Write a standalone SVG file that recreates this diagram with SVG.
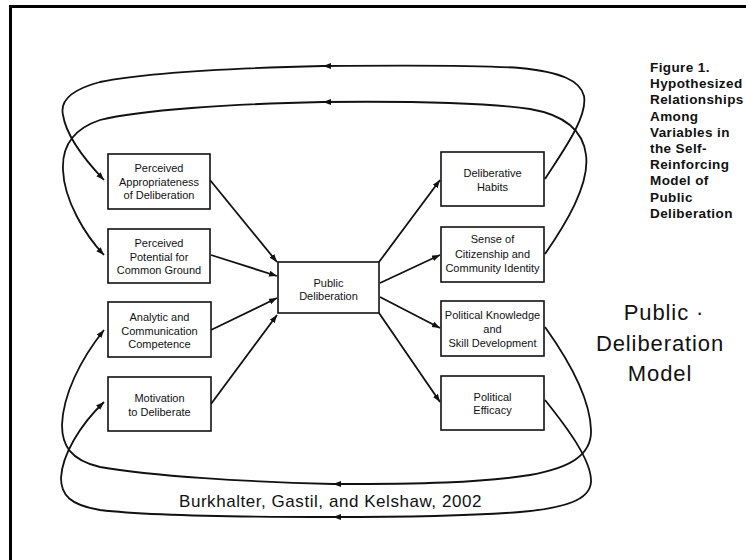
<svg xmlns="http://www.w3.org/2000/svg" width="746" height="560" viewBox="0 0 746 560">
<style>
.box{fill:#fff;stroke:#111;stroke-width:1.6}
.bt{font-family:"Liberation Sans",Arial,sans-serif;font-size:11px;fill:#111;text-anchor:middle}
.ln{fill:none;stroke:#111;stroke-width:1.8}
.cap{font-family:"Liberation Sans",Arial,sans-serif;font-size:13.5px;font-weight:bold;letter-spacing:0.4px;fill:#111}
.big{font-family:"Liberation Sans",Arial,sans-serif;font-size:22px;letter-spacing:0.9px;fill:#111;text-anchor:middle}
.cit{font-family:"Liberation Sans",Arial,sans-serif;font-size:17px;letter-spacing:0.55px;fill:#111}
</style>
<defs>
<marker id="ah" markerUnits="userSpaceOnUse" markerWidth="9" markerHeight="7" refX="8" refY="3" orient="auto">
<path d="M0,0 L8,3 L0,6 z" fill="#111"/>
</marker>
</defs>
<rect x="0" y="0" width="746" height="560" fill="#fff"/>
<rect x="10.5" y="6.5" width="760" height="580" fill="none" stroke="#000" stroke-width="3"/>

<g id="connectors" class="ln" marker-end="url(#ah)">
<path d="M210,180 L277,262"/>
<path d="M211,255 L277,276"/>
<path d="M211,330 L277,298"/>
<path d="M211,404 L277,315"/>
<path d="M379,262 L440,180"/>
<path d="M380,283 L440,255"/>
<path d="M380,297 L440,328"/>
<path d="M379,313 L440,402"/>
<path d="M545,179 C560,155 588,118 584,96 C580,80 560,72 520,68 C480,65 420,65 323,66"/>
<path d="M323,66 C240,68 150,72 100,82 C70,90 60,102 63,115 C66,135 85,160 104,180"/>
<path d="M545,254 C565,225 590,185 586,155 C583,130 565,115 530,109 C490,103 420,101 323,102"/>
<path d="M323,102 C230,104 140,110 100,120 C70,130 62,150 63,170 C64,200 85,235 104,255"/>
<path d="M545,327 C565,355 590,395 591,430 C592,455 570,468 530,475 C480,483 420,484 333,484"/>
<path d="M333,484 C250,482 150,476 100,467 C70,460 62,445 62,425 C63,395 80,360 104,330"/>
<path d="M545,400 C565,425 592,460 591,482 C590,500 565,508 520,512 C470,516 420,517 333,517"/>
<path d="M333,517 C250,517 150,516 100,510 C70,505 61,495 61,478 C62,455 80,425 104,402"/>
</g>

<g id="appropriateness">
<rect class="box" x="108" y="154" width="102" height="55"/>
<text class="bt" x="159" y="172">Perceived</text>
<text class="bt" x="159" y="185.5">Appropriateness</text>
<text class="bt" x="159" y="199">of Deliberation</text>
</g>
<g id="common-ground">
<rect class="box" x="108" y="229" width="102" height="54"/>
<text class="bt" x="159" y="247">Perceived</text>
<text class="bt" x="159" y="260.5">Potential for</text>
<text class="bt" x="159" y="274">Common Ground</text>
</g>
<g id="competence">
<rect class="box" x="108" y="302" width="103" height="55"/>
<text class="bt" x="159.5" y="321">Analytic and</text>
<text class="bt" x="159.5" y="335">Communication</text>
<text class="bt" x="159.5" y="348">Competence</text>
</g>
<g id="motivation">
<rect class="box" x="108" y="377" width="103" height="54"/>
<text class="bt" x="159.5" y="402">Motivation</text>
<text class="bt" x="159.5" y="416">to Deliberate</text>
</g>
<g id="public-deliberation">
<rect class="box" x="278" y="262" width="101" height="51"/>
<text class="bt" x="328.5" y="287">Public</text>
<text class="bt" x="328.5" y="300">Deliberation</text>
</g>
<g id="habits">
<rect class="box" x="441" y="152" width="103" height="54"/>
<text class="bt" x="492.5" y="177">Deliberative</text>
<text class="bt" x="492.5" y="191">Habits</text>
</g>
<g id="citizenship">
<rect class="box" x="441" y="227" width="103" height="55"/>
<text class="bt" x="492.5" y="243">Sense of</text>
<text class="bt" x="492.5" y="258">Citizenship and</text>
<text class="bt" x="492.5" y="272">Community Identity</text>
</g>
<g id="knowledge">
<rect class="box" x="441" y="301" width="103" height="55"/>
<text class="bt" x="492.5" y="319">Political Knowledge</text>
<text class="bt" x="492.5" y="333">and</text>
<text class="bt" x="492.5" y="347">Skill Development</text>
</g>
<g id="efficacy">
<rect class="box" x="441" y="376" width="103" height="54"/>
<text class="bt" x="492.5" y="401">Political</text>
<text class="bt" x="492.5" y="414">Efficacy</text>
</g>

<g id="caption">
<text class="cap" x="650" y="72">Figure 1.</text>
<text class="cap" x="650" y="88.2">Hypothesized</text>
<text class="cap" x="650" y="104.4">Relationships</text>
<text class="cap" x="650" y="120.6">Among</text>
<text class="cap" x="650" y="136.8">Variables in</text>
<text class="cap" x="650" y="153">the Self-</text>
<text class="cap" x="650" y="169.2">Reinforcing</text>
<text class="cap" x="650" y="185.4">Model of</text>
<text class="cap" x="650" y="201.6">Public</text>
<text class="cap" x="650" y="217.8">Deliberation</text>
</g>
<g id="title">
<text class="big" x="664" y="320">Public ·</text>
<text class="big" x="660" y="351">Deliberation</text>
<text class="big" x="660" y="381">Model</text>
</g>
<g id="citation">
<text class="cit" x="179" y="507">Burkhalter, Gastil, and Kelshaw, 2002</text>
</g>
</svg>
